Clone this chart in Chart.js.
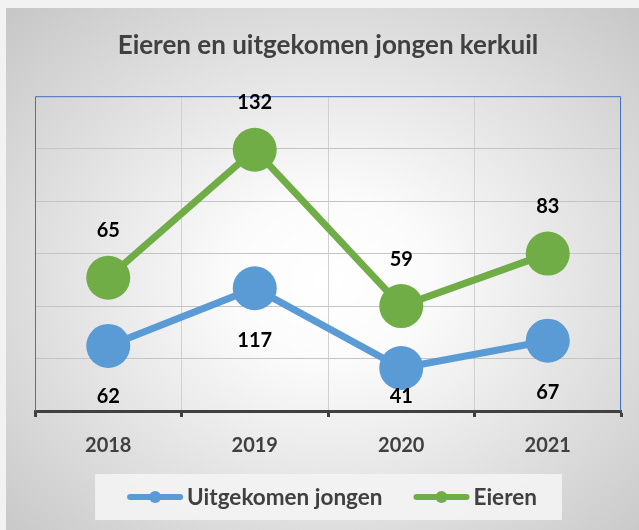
<!DOCTYPE html>
<html>
<head>
<meta charset="utf-8">
<script src="https://cdn.jsdelivr.net/npm/chart.js@4.4.1/dist/chart.umd.min.js"></script>
<style>
    html, body { margin: 0; padding: 0; background: #f2f2f2; }
    #wrap {
        position: absolute; left: 6px; top: 8px; width: 633px; height: 522px;
        background: radial-gradient(ellipse farthest-corner at 51% 52%, #ffffff 0%, #fbfbfb 22%, #c6c6c6 100%);
    }
</style>
</head>
<body>
<div id="wrap"><canvas id="kerkuilChart"></canvas></div>
<script>
// -------------------------------
// DATA
// -------------------------------
const years = ["2018", "2019", "2020", "2021"];
const jongen = [62, 117, 41, 67];   // Uitgekomen jongen
const eieren = [65, 132, 59, 83];   // Eieren (stacked on top of jongen)

const blue = "#5B9BD5";
const green = "#70AD47";
const textGrey = "#404040";
const font = "Lato";

// -------------------------------
// PLUGIN: frame, value labels, legend
// -------------------------------
const kerkuilExtras = {
    id: "kerkuilExtras",
    beforeDatasetsDraw(chart) {
        // thin blue frame on left, top and right of the plot area
        const a = chart.chartArea;
        const ctx = chart.ctx;
        ctx.save();
        ctx.strokeStyle = "#4472C4";
        ctx.lineWidth = 1;
        ctx.beginPath();
        ctx.moveTo(a.left + 0.5, a.bottom);
        ctx.lineTo(a.left + 0.5, a.top + 0.5);
        ctx.lineTo(a.right - 0.5, a.top + 0.5);
        ctx.lineTo(a.right - 0.5, a.bottom);
        ctx.stroke();
        ctx.restore();
    },
    afterDatasetsDraw(chart) {
        // value labels: blue below the point, green above
        const a = chart.chartArea;
        const ctx = chart.ctx;
        ctx.save();
        ctx.font = `bold 20px ${font}`;
        ctx.fillStyle = "#000";
        ctx.textAlign = "center";
        ctx.textBaseline = "middle";
        chart.data.datasets.forEach((ds, di) => {
            const meta = chart.getDatasetMeta(di);
            meta.data.forEach((pt, i) => {
                let y;
                if (di === 0) {
                    y = Math.min(pt.y + 52, a.bottom - 14);
                } else {
                    y = pt.y - 47;
                }
                ctx.fillText(String(ds.data[i]), pt.x, y);
            });
        });
        ctx.restore();
    },
    afterDraw(chart) {
        // legend in a light grey box
        const ctx = chart.ctx;
        const a = chart.chartArea;
        const iconW = 56, gap = 4, spacing = 31;
        ctx.save();
        ctx.font = `bold 22.5px ${font}`;
        const items = chart.data.datasets.map(ds => ({
            text: ds.label,
            color: ds.borderColor,
            w: ctx.measureText(ds.label).width
        }));
        let total = 0;
        items.forEach((it, i) => {
            total += iconW + gap + it.w + (i < items.length - 1 ? spacing : 0);
        });
        const cy = a.bottom + 86;
        let x = (a.left + a.right) / 2 - total / 2 + 4;

        ctx.fillStyle = "rgba(242,242,242,0.95)";
        ctx.fillRect(x - 32, cy - 23, total + 57, 46);

        items.forEach(it => {
            ctx.strokeStyle = it.color;
            ctx.fillStyle = it.color;
            ctx.lineWidth = 6;
            ctx.lineCap = "round";
            ctx.beginPath();
            ctx.moveTo(x + 3, cy);
            ctx.lineTo(x + iconW - 3, cy);
            ctx.stroke();
            ctx.beginPath();
            ctx.arc(x + iconW / 2, cy, 6, 0, Math.PI * 2);
            ctx.fill();
            x += iconW + gap;
            ctx.fillStyle = textGrey;
            ctx.textAlign = "left";
            ctx.textBaseline = "middle";
            ctx.fillText(it.text, x, cy + 1);
            x += it.w + spacing;
        });
        ctx.restore();
    }
};

// -------------------------------
// CHART
// -------------------------------
const ctx = document.getElementById("kerkuilChart").getContext("2d");

new Chart(ctx, {
    type: "line",
    data: {
        labels: years,
        datasets: [
            {
                label: "Uitgekomen jongen",
                data: jongen,
                borderColor: blue,
                backgroundColor: blue,
                borderWidth: 7,
                pointRadius: 22,
                pointBorderWidth: 0,
                pointHoverRadius: 22,
                tension: 0,
                fill: false
            },
            {
                label: "Eieren",
                data: eieren,
                borderColor: green,
                backgroundColor: green,
                borderWidth: 7,
                pointRadius: 22,
                pointBorderWidth: 0,
                pointHoverRadius: 22,
                tension: 0,
                fill: false
            }
        ]
    },
    options: {
        responsive: true,
        maintainAspectRatio: false,
        animation: false,
        events: [],
        layout: {
            autoPadding: false,
            padding: { left: 29, right: 18, top: 0, bottom: 67 }
        },
        scales: {
            x: {
                offset: true,
                grid: {
                    offset: true,
                    color: "#d0d0d0",
                    lineWidth: 1,
                    tickColor: textGrey,
                    tickLength: 6,
                    tickWidth: 3
                },
                border: { color: textGrey, width: 3 },
                ticks: {
                    color: textGrey,
                    padding: 17,
                    font: { family: font, size: 20, weight: "bold" }
                },
                afterFit(scale) { scale.height = 52; }
            },
            y: {
                stacked: true,
                min: 0,
                max: 300,
                ticks: { display: false, stepSize: 50 },
                grid: { color: "#c4c4c4", lineWidth: 1, drawTicks: false },
                border: { display: false }
            }
        },
        plugins: {
            title: {
                display: true,
                text: "Eieren en uitgekomen jongen kerkuil",
                color: textGrey,
                font: { family: font, size: 26, weight: "bold" },
                padding: { top: 22, bottom: 35 }
            },
            legend: { display: false },
            tooltip: { enabled: false }
        }
    },
    plugins: [kerkuilExtras]
});
</script>
</body>
</html>
